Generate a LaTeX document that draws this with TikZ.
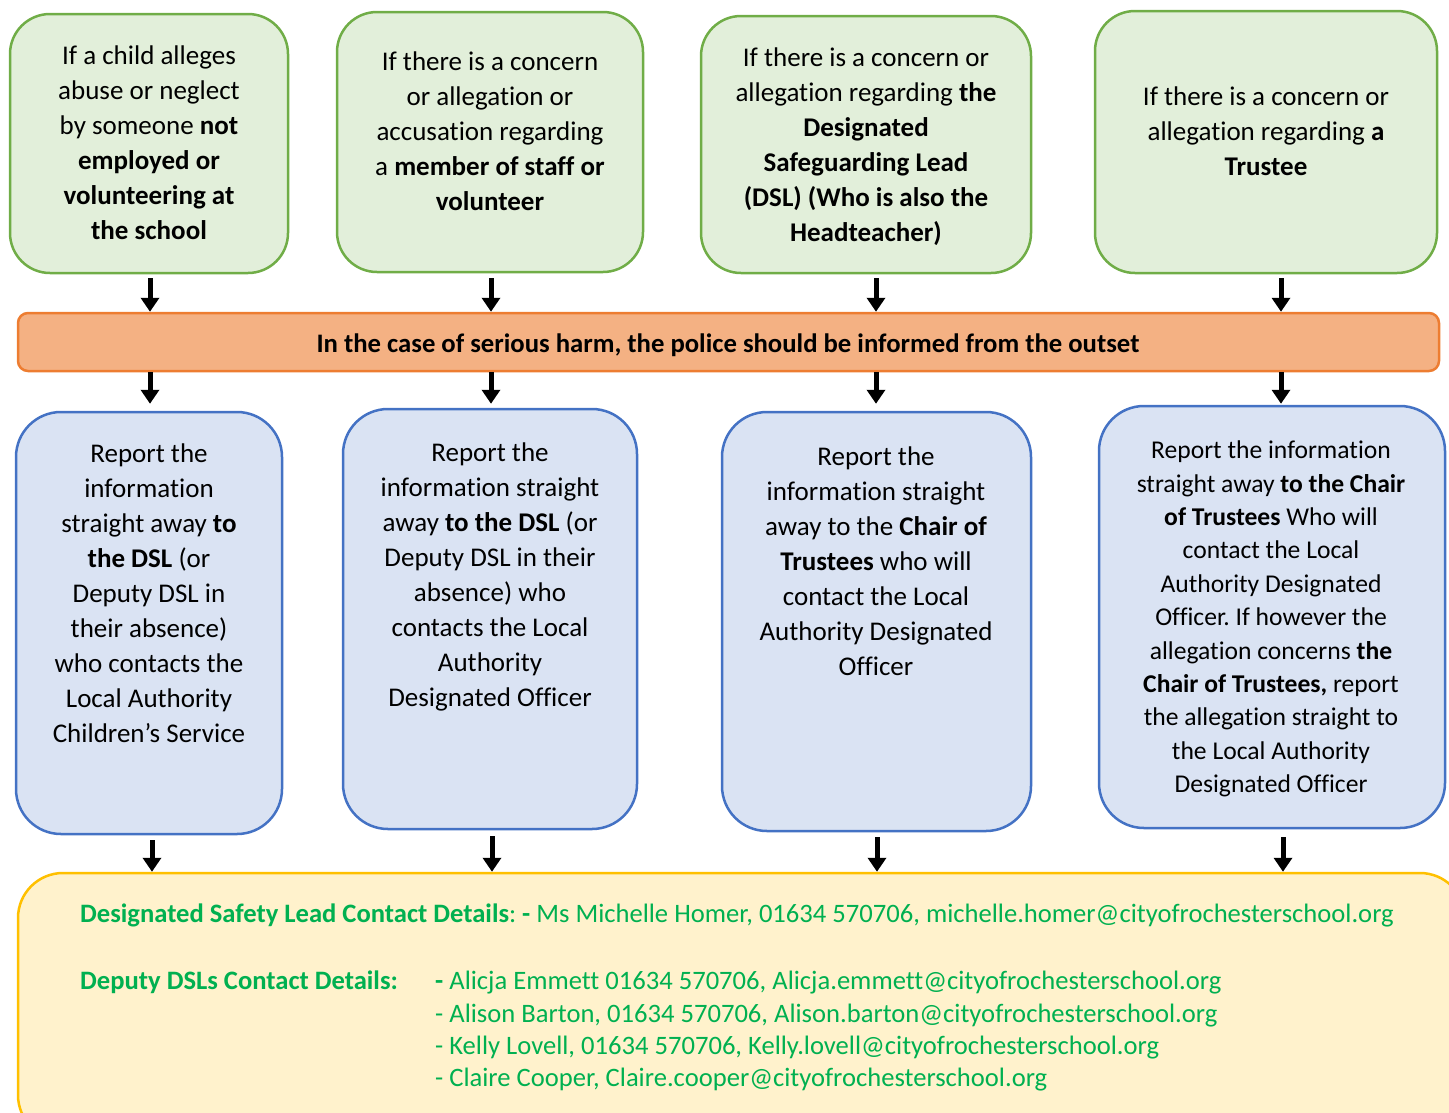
\documentclass[tikz,border=0pt]{standalone}
\usepackage{fontspec}
\setmainfont[Ligatures=NoCommon]{Carlito}
\frenchspacing
\usetikzlibrary{arrows.meta}
\definecolor{gfill}{HTML}{E2EFDA}
\definecolor{gdraw}{HTML}{70AD47}
\definecolor{ofill}{HTML}{F4B183}
\definecolor{odraw}{HTML}{ED7D31}
\definecolor{bfill}{HTML}{DAE3F3}
\definecolor{bdraw}{HTML}{4472C4}
\definecolor{yfill}{HTML}{FFF2CC}
\definecolor{ydraw}{HTML}{FFC000}
\definecolor{gtext}{HTML}{00B050}
\begin{document}
\begin{tikzpicture}[x=1pt,y=1pt,
  gbox/.style={draw=gdraw,fill=gfill,line width=2.5pt,rounded corners=40pt,inner sep=0pt},
  bbox/.style={draw=bdraw,fill=bfill,line width=2.5pt,rounded corners=45pt,inner sep=0pt},
  obox/.style={draw=odraw,fill=ofill,line width=2.5pt,rounded corners=10pt,inner sep=0pt},
  ybox/.style={draw=ydraw,fill=yfill,line width=2.5pt,rounded corners=45pt,inner sep=0pt},
  txt/.style={align=center,inner sep=0pt,font=\fontsize{27}{35}\selectfont\frenchspacing},
  txts/.style={align=center,inner sep=0pt,font=\fontsize{25.6}{33.4}\selectfont\frenchspacing},
  ytxt/.style={align=left,inner sep=0pt,text=gtext,font=\fontsize{26.6}{32.3}\selectfont\frenchspacing},
  arr/.style={line width=5pt,-{Triangle[width=18pt,length=14pt]}}
]
\clip (0,0) rectangle (1449,-1112);
% top boxes
\node[gbox,minimum width=278,minimum height=259] (g1) at (149,-143.5) {};
\node[gbox,minimum width=306,minimum height=260] (g2) at (490,-142) {};
\node[gbox,minimum width=330,minimum height=257] (g3) at (866,-144.5) {};
\node[gbox,minimum width=342,minimum height=262] (g4) at (1266,-142) {};
\node[txt] (g1t) at (149,-144.5) {\strut If a child alleges\\abuse or neglect\\by someone \textbf{not}\\\textbf{employed or}\\\textbf{volunteering at}\\\textbf{the school}\strut};
\node[txt] (g2t) at (490,-133) {\strut If there is a concern\\or allegation or\\accusation regarding\\a \textbf{member of staff or}\\\textbf{volunteer}\strut};
\node[txt] (g3t) at (866,-147) {\strut If there is a concern or\\allegation regarding \textbf{the}\\\textbf{Designated}\\\textbf{Safeguarding Lead}\\\textbf{(DSL) (Who is also the}\\\textbf{Headteacher)}\strut};
\node[txt] (g4t) at (1266,-133) {\strut If there is a concern or\\allegation regarding \textbf{a}\\\textbf{Trustee}\strut};
% orange bar
\node[obox,minimum width=1421,minimum height=58] (or) at (728.5,-342) {};
\node[txt,font=\fontsize{26.7}{30}\selectfont\bfseries] (ort) at (728,-345) {In the case of serious harm, the police should be informed from the outset};
% blue boxes
\node[bbox,minimum width=266,minimum height=422] (b1) at (149,-623) {};
\node[bbox,minimum width=294,minimum height=420] (b2) at (490,-619) {};
\node[bbox,minimum width=309,minimum height=419] (b3) at (876.5,-621.5) {};
\node[bbox,minimum width=346,minimum height=422] (b4) at (1272,-617) {};
\node[txt] (b1t) at (149,-595.5) {\strut Report the\\information\\straight away \textbf{to}\\\textbf{the DSL} (or\\Deputy DSL in\\their absence)\\who contacts the\\Local Authority\\Children’s Service\strut};
\node[txt] (b2t) at (490,-576.5) {\strut Report the\\information straight\\away \textbf{to the DSL} (or\\Deputy DSL in their\\absence) who\\contacts the Local\\Authority\\Designated Officer\strut};
\node[txt] (b3t) at (876,-563) {\strut Report the\\information straight\\away to the \textbf{Chair of}\\\textbf{Trustees} who will\\contact the Local\\Authority Designated\\Officer\strut};
\node[txts] (b4t) at (1271,-619) {\strut Report the information\\straight away \textbf{to the Chair}\\\textbf{of Trustees} Who will\\contact the Local\\Authority Designated\\Officer. If however the\\allegation concerns \textbf{the}\\\textbf{Chair of Trustees,} report\\the allegation straight to\\the Local Authority\\Designated Officer\strut};
% yellow box
\node[ybox,minimum width=1447,minimum height=267] (yb) at (741.5,-1006.5) {};
\node[ytxt,anchor=west] (y1) at (80,-915) {\textbf{Designated Safety Lead Contact Details}: \textbf{-} Ms Michelle Homer, 01634 570706, michelle.homer@cityofrochesterschool.org};
\node[ytxt,anchor=west] (y2) at (80,-982) {\textbf{Deputy DSLs Contact Details:}};
\node[ytxt,anchor=north west] (y3) at (435,-967) {\strut\textbf{-} Alicja Emmett 01634 570706, Alicja.emmett@cityofrochesterschool.org\\- Alison Barton, 01634 570706, Alison.barton@cityofrochesterschool.org\\- Kelly Lovell, 01634 570706, Kelly.lovell@cityofrochesterschool.org\\- Claire Cooper, Claire.cooper@cityofrochesterschool.org\strut};
% arrows green -> orange
\draw[arr] ([xshift=1pt,yshift=-4pt]g1.south) -- ([xshift=1pt]g1.south |- or.north);
\draw[arr] ([xshift=1pt,yshift=-5pt]g2.south) -- ([xshift=1pt]g2.south |- or.north);
\draw[arr] ([xshift=10pt,yshift=-4pt]g3.south) -- ([xshift=10pt]g3.south |- or.north);
\draw[arr] ([xshift=15pt,yshift=-4pt]g4.south) -- ([xshift=15pt]g4.south |- or.north);
% orange -> blue
\draw[arr,shorten >=7pt] ([xshift=1pt]g1.south |- or.south) -- ([xshift=1pt]g1.south |- b1.north);
\draw[arr,shorten >=4pt] ([xshift=1pt]g2.south |- or.south) -- ([xshift=1pt]g2.south |- b2.north);
\draw[arr,shorten >=7pt] ([xshift=10pt]g3.south |- or.south) -- ([xshift=10pt]g3.south |- b3.north);
\draw[arr,shorten >=1pt] ([xshift=15pt]g4.south |- or.south) -- ([xshift=15pt]g4.south |- b4.north);
% blue -> yellow
\draw[arr] ([xshift=3pt,yshift=-5pt]b1.south) -- ([xshift=3pt]b1.south |- yb.north);
\draw[arr] ([xshift=2pt,yshift=-6pt]b2.south) -- ([xshift=2pt]b2.south |- yb.north);
\draw[arr] ([xshift=0.5pt,yshift=-5pt]b3.south) -- ([xshift=0.5pt]b3.south |- yb.north);
\draw[arr] ([xshift=11pt,yshift=-8pt]b4.south) -- ([xshift=11pt]b4.south |- yb.north);
\end{tikzpicture}
\end{document}
